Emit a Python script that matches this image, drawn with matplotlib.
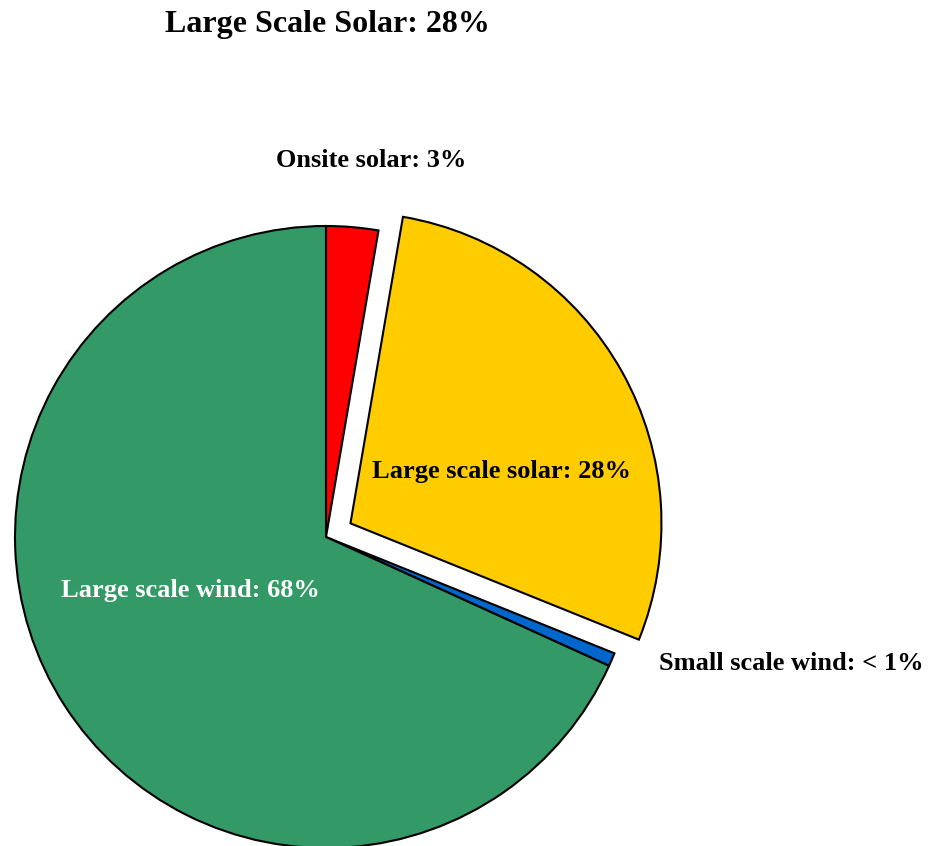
import matplotlib.pyplot as plt

# energy mix shares (%)
sources = ['Onsite solar', 'Large scale solar', 'Small scale wind', 'Large scale wind']
shares = [2.7, 28.4, 0.7, 68.2]
share_labels = ['3%', '28%', '< 1%', '68%']
colors = ['#ff0000', '#ffcc00', '#0066cc', '#339966']
explode = [0, 28, 0, 0]

plt.rcParams['font.family'] = ['Liberation Serif', 'DejaVu Serif']
plt.rcParams['font.weight'] = 'bold'

fig = plt.figure(figsize=(9.31, 8.46), dpi=100)
ax = fig.add_axes([0, 0, 1, 1])
ax.axis('off')

# pie drawn in pixel-sized data units, y measured from the bottom
cx, cy, r = 326, 309, 311
wedges, _ = ax.pie(shares, colors=colors, startangle=90, counterclock=False,
                   center=(cx, cy), radius=r, explode=explode,
                   wedgeprops=dict(edgecolor='black', linewidth=1.5))
ax.set_xlim(0, 931)
ax.set_ylim(0, 846)

# slice labels
ax.text(371, 846 - 160, f'{sources[0]}: {share_labels[0]}', ha='center', va='center', fontsize=19)
ax.text(502, 846 - 471, f'{sources[1]}: {share_labels[1]}', ha='center', va='center', fontsize=19)
ax.text(791, 846 - 664, f'{sources[2]}: {share_labels[2]}', ha='center', va='center', fontsize=19)
ax.text(190, 846 - 591, f'{sources[3]}: {share_labels[3]}', ha='center', va='center', fontsize=19, color='white')

ax.text(327, 846 - 24, 'Large Scale Solar: 28%', ha='center', va='center', fontsize=23)

fig.savefig('out.png', dpi=100)
